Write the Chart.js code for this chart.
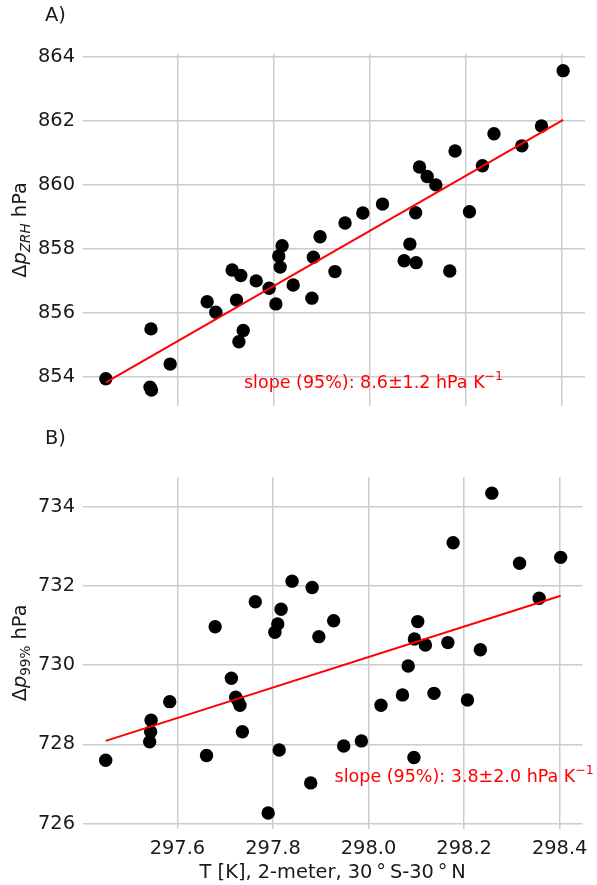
<!DOCTYPE html>
<html>
<head>
<meta charset="utf-8">
<script src="https://cdn.jsdelivr.net/npm/chart.js@4"></script>
<style>
  body { margin: 0; background: #fff; }
  canvas { position: absolute; left: 0; }
  #chartA { top: 0; }
  #chartB { top: 426px; }
</style>
</head>
<body>
<canvas id="chartA" width="597" height="426"></canvas>
<canvas id="chartB" width="597" height="459"></canvas>
<script>
// ****** data ******
// 2-meter temperature, 30S-30N [K]
const tempK = [297.450, 297.542, 297.545, 297.544, 297.584, 297.661, 297.679, 297.713, 297.731, 297.722,
               297.736, 297.727, 297.763, 297.790, 297.804, 297.813, 297.810, 297.817, 297.840, 297.879,
               297.882, 297.896, 297.927, 297.948, 297.985, 298.026, 298.095, 298.083, 298.071, 298.096,
               298.166, 298.103, 298.119, 298.137, 298.177, 298.207, 298.234, 298.258, 298.316, 298.357,
               298.402];
// A) pressure difference ZRH [hPa]
const dpZRH = [853.95, 853.69, 853.60, 855.51, 854.41, 856.36, 856.03, 857.35, 857.18, 856.41,
               855.46, 855.11, 857.01, 856.78, 856.29, 857.44, 857.79, 858.11, 856.88, 856.47,
               857.75, 858.39, 857.30, 858.82, 859.13, 859.41, 859.14, 858.16, 857.64, 857.58,
               857.32, 860.57, 860.27, 860.01, 861.07, 859.17, 860.61, 861.61, 861.23, 861.85,
               863.58];
// B) pressure difference 99% [hPa]
const dp99 = [727.60, 728.07, 728.61, 728.32, 729.08, 727.72, 730.97, 729.67, 728.99, 729.19,
              728.32, 729.10, 731.60, 726.27, 730.83, 727.86, 731.04, 731.41, 732.12, 727.03,
              731.96, 730.72, 731.12, 727.96, 728.09, 728.99, 727.67, 729.98, 729.25, 730.66,
              730.57, 731.10, 730.51, 729.29, 733.09, 729.12, 730.39, 734.34, 732.57, 731.69,
              732.72];
// regression lines (end points)
const fitX = [297.450, 298.402];
const fitZRH = [853.84, 862.04];
const fit99 = [728.09, 731.75];
// ticks
const xTicks = [297.6, 297.8, 298.0, 298.2, 298.4];
const yTicksA = [854, 856, 858, 860, 862, 864];
const yTicksB = [726, 728, 730, 732, 734];

const FONT = 'DejaVu Sans';
const FS = 19.4;

function pts(xs, ys) {
    return xs.map(function(x, i) { return {x: x, y: ys[i]}; });
}

// draw a list of text runs (for sub/superscripts)
function drawRuns(ctx, runs, align) {
    let total = 0;
    runs.forEach(function(r) {
        ctx.font = (r.italic ? 'italic ' : '') + r.size + 'px "' + FONT + '"';
        r.w = ctx.measureText(r.t).width;
        total += r.w;
    });
    let x = align === 'center' ? -total / 2 : 0;
    runs.forEach(function(r) {
        ctx.font = (r.italic ? 'italic ' : '') + r.size + 'px "' + FONT + '"';
        ctx.fillText(r.t, x, r.dy || 0);
        x += r.w;
    });
}

const panelText = {
    id: 'panelText',
    afterDraw(chart, args, o) {
        const ctx = chart.ctx, area = chart.chartArea;
        ctx.save();
        ctx.fillStyle = '#1a1a1a';
        ctx.textBaseline = 'alphabetic';
        ctx.textAlign = 'left';
        ctx.font = FS + 'px "' + FONT + '"';
        ctx.fillText(o.letter, 45, o.letterY);
        ctx.translate(o.ylabX, (area.top + area.bottom) / 2);
        ctx.rotate(-Math.PI / 2);
        drawRuns(ctx, o.ylabel, 'center');
        ctx.restore();

        ctx.save();
        ctx.fillStyle = 'red';
        ctx.textBaseline = 'alphabetic';
        ctx.textAlign = 'left';
        ctx.translate(chart.scales.x.getPixelForValue(o.noteAt[0]),
                      chart.scales.y.getPixelForValue(o.noteAt[1]));
        drawRuns(ctx, o.note, 'left');
        ctx.restore();
    }
};

function makeChart(id, ys, fitY, yMin, yMax, yTicks, showX, pad, text) {
    const ctx = document.getElementById(id).getContext('2d');
    return new Chart(ctx, {
        type: 'scatter',
        data: {
            datasets: [{
                type: 'line',
                data: pts(fitX, fitY),
                borderColor: 'red',
                borderWidth: 2,
                pointRadius: 0,
                fill: false,
                order: 1
            }, {
                data: pts(tempK, ys),
                backgroundColor: '#000',
                borderWidth: 0,
                pointRadius: 6.7,
                pointHoverRadius: 6.7,
                order: 2
            }]
        },
        options: {
            responsive: false,
            animation: false,
            events: [],
            layout: { padding: pad },
            scales: {
                x: {
                    type: 'linear',
                    min: 297.4025,
                    max: 298.4475,
                    afterBuildTicks: function(s) { s.ticks = xTicks.map(function(v) { return {value: v}; }); },
                    afterFit: function(s) { s.height = showX ? 56.5 : 0; },
                    grid: { color: '#cccccc', lineWidth: 1.5, drawTicks: false },
                    border: { display: false },
                    ticks: {
                        display: showX,
                        padding: 9,
                        color: '#1a1a1a',
                        font: { family: FONT, size: FS },
                        callback: function(v) { return v.toFixed(1); }
                    },
                    title: {
                        display: showX,
                        text: 'T [K], 2-meter, 30\u2009°\u2009S-30\u2009°\u2009N',
                        color: '#1a1a1a',
                        font: { family: FONT, size: FS },
                        padding: { top: 0, bottom: 0 }
                    }
                },
                y: {
                    min: yMin,
                    max: yMax,
                    afterBuildTicks: function(s) { s.ticks = yTicks.map(function(v) { return {value: v}; }); },
                    afterFit: function(s) { s.width = 83; },
                    grid: { color: '#cccccc', lineWidth: 1.5, drawTicks: false },
                    border: { display: false },
                    ticks: {
                        padding: 8,
                        color: '#1a1a1a',
                        font: { family: FONT, size: FS }
                    }
                }
            },
            plugins: {
                legend: { display: false },
                tooltip: { enabled: false },
                panelText: text
            }
        },
        plugins: [panelText]
    });
}

/****** A) ******/
makeChart('chartA', dpZRH, fitZRH, 853.1, 864.1, yTicksA, false,
    { left: 0, right: 12, top: 54, bottom: 20 },
    {
        letter: 'A)', letterY: 21, ylabX: 26,
        ylabel: [
            { t: 'Δ', size: FS },
            { t: 'p', size: FS, italic: true },
            { t: 'ZRH', size: FS * 0.7, italic: true, dy: 3.5 },
            { t: ' hPa', size: FS }
        ],
        noteAt: [297.7376, 853.67],
        note: [
            { t: 'slope (95%): 8.6±1.2 hPa K', size: 17.5 },
            { t: '−1', size: 12.5, dy: -7.5 }
        ]
    });

/****** B) ******/
makeChart('chartB', dp99, fit99, 725.88, 734.74, yTicksB, true,
    { left: 0, right: 12, top: 51.3, bottom: 0 },
    {
        letter: 'B)', letterY: 18, ylabX: 26,
        ylabel: [
            { t: 'Δ', size: FS },
            { t: 'p', size: FS, italic: true },
            { t: '99%', size: FS * 0.7, dy: 3.5 },
            { t: ' hPa', size: FS }
        ],
        noteAt: [297.929, 727.06],
        note: [
            { t: 'slope (95%): 3.8±2.0 hPa K', size: 17.5 },
            { t: '−1', size: 12.5, dy: -7.5 }
        ]
    });
</script>
</body>
</html>
